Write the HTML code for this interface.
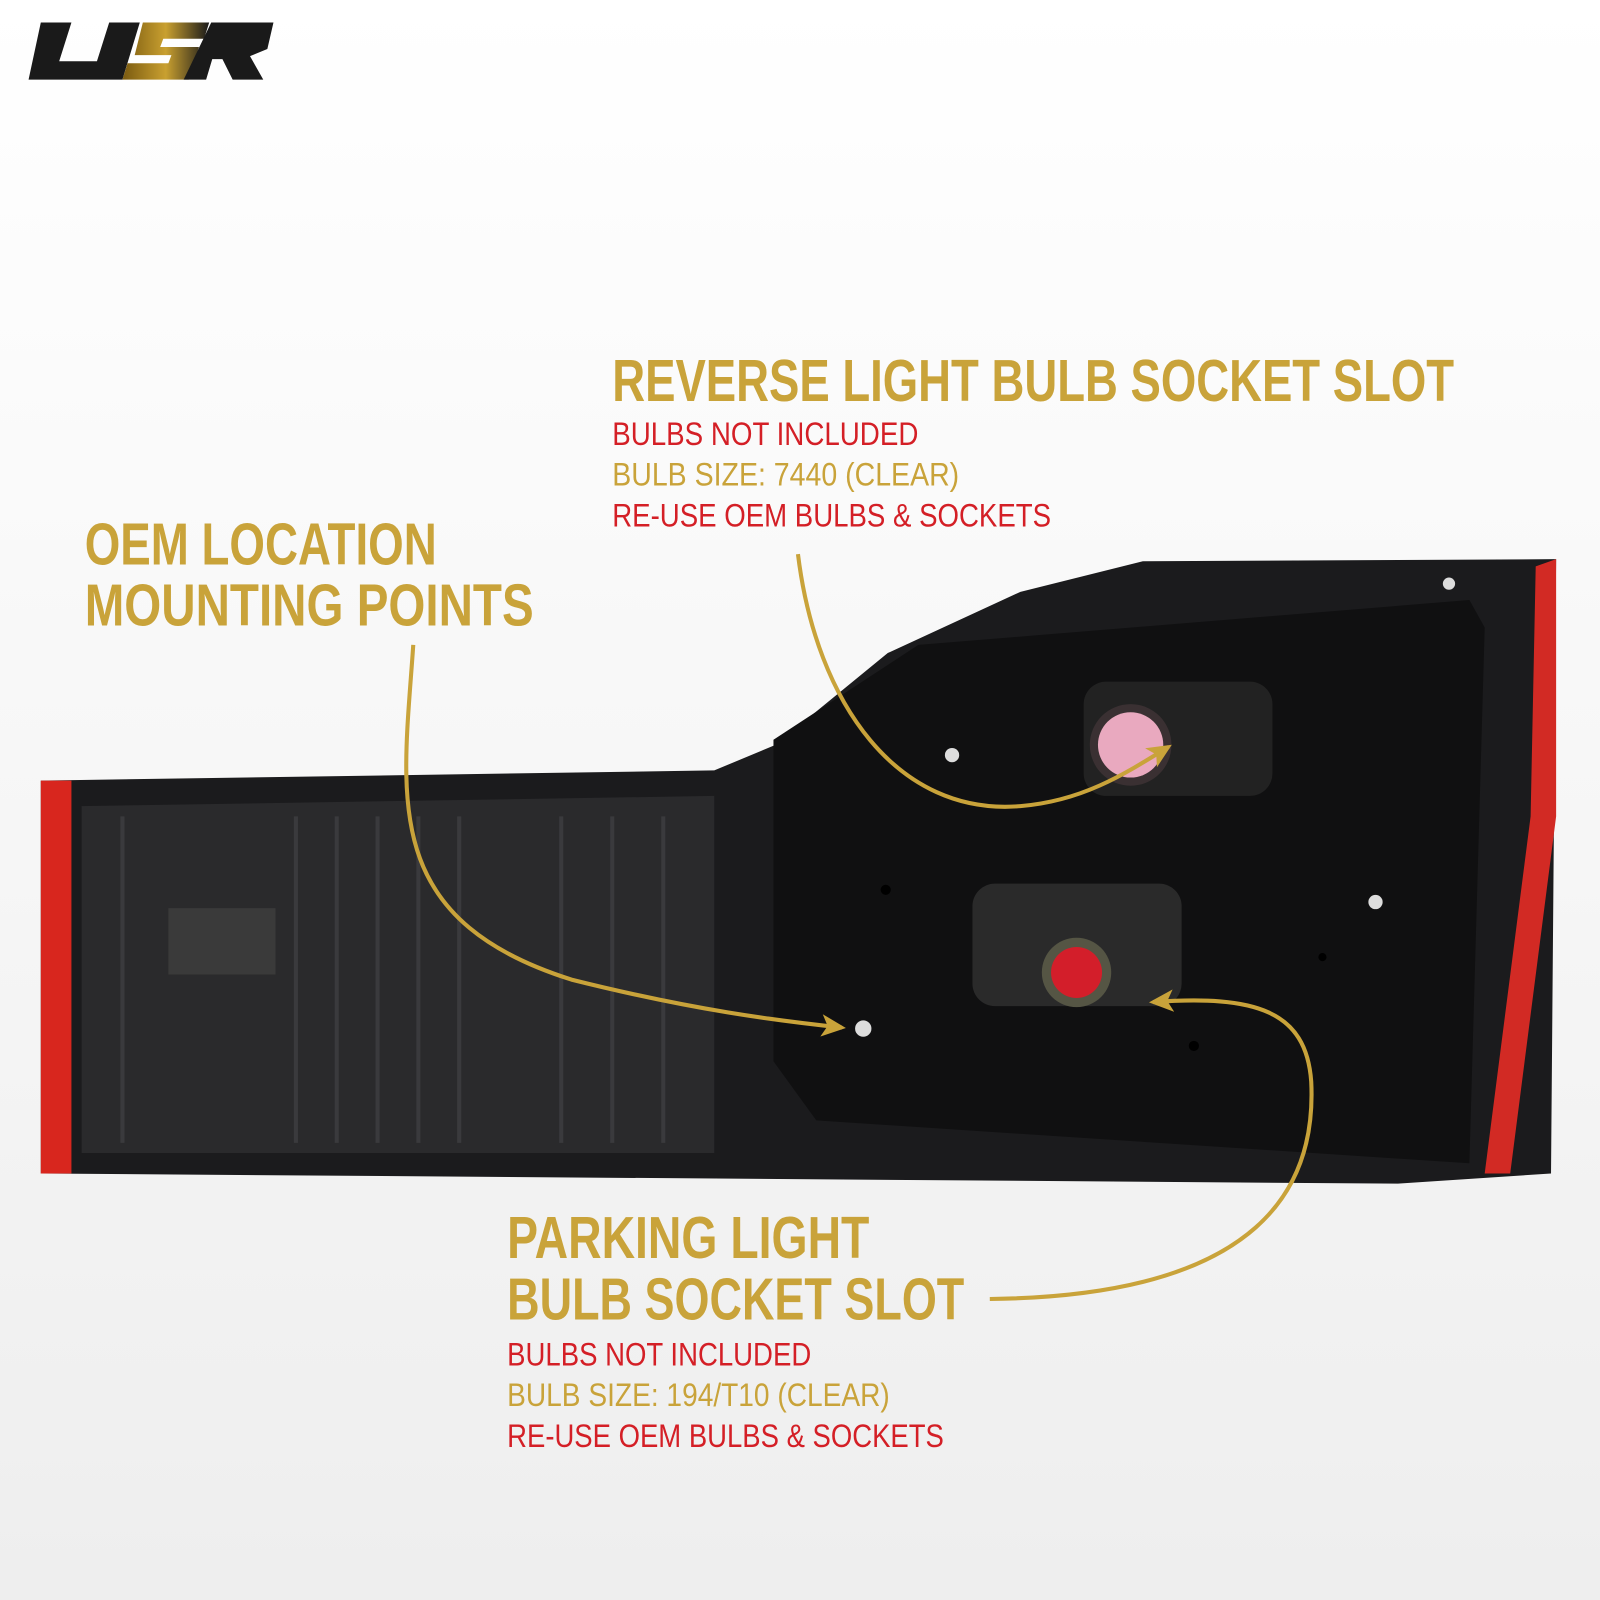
<!DOCTYPE html>
<html><head><meta charset="utf-8"><style>
html,body{margin:0;padding:0;background:#fff}
svg{display:block}
.t{font-family:"Liberation Sans Narrow","Liberation Sans",sans-serif;font-weight:bold}
.s{font-family:"Liberation Sans Narrow","Liberation Sans",sans-serif}
</style></head><body>
<svg width="1600" height="1600" viewBox="0 0 1568 1568" xmlns="http://www.w3.org/2000/svg">
<defs>
<linearGradient id="bg" x1="0" y1="0" x2="0" y2="1"><stop offset="0" stop-color="#ffffff"/><stop offset="1" stop-color="#eeeeee"/></linearGradient>
<linearGradient id="lg" x1="0" y1="0" x2="1" y2="0"><stop offset="0" stop-color="#7a5a10"/><stop offset="0.5" stop-color="#c9a030"/><stop offset="1" stop-color="#1a1a1a"/></linearGradient>
<marker id="ar" markerWidth="26" markerHeight="22" refX="20" refY="11" orient="auto" markerUnits="userSpaceOnUse"><path d="M0,0 L24,11 L0,22 L6,11 Z" fill="#c9a33a"/></marker>
</defs>
<rect width="1568" height="1568" fill="url(#bg)"/>
<g>
<polygon points="40,22 70,22 58,60 95,60 107,22 137,22 120,78 28,78" fill="#1a1a1a"/>
<polygon points="140,22 205,22 200,38 160,38 157,46 195,46 185,78 120,78 125,62 165,62 168,54 132,54" fill="url(#lg)"/>
<polygon points="207,22 268,22 262,48 245,55 258,78 228,78 218,58 208,58 202,78 180,78" fill="#1a1a1a"/>
</g>
<polygon points="40,765 700,755 760,730 870,640 1000,580 1120,550 1525,548 1520,1150 1370,1160 40,1150" fill="#1b1b1d"/>
<polygon points="40,765 70,765 70,1150 40,1150" fill="#d8261e"/>
<polygon points="1505,555 1525,548 1525,800 1480,1150 1455,1150 1500,800" fill="#d22a24"/>
<polygon points="80,790 700,780 700,1130 80,1130" fill="#2a2a2c"/>
<g stroke="#3a3a3d" stroke-width="4">
<line x1="120" y1="800" x2="120" y2="1120"/><line x1="290" y1="800" x2="290" y2="1120"/><line x1="330" y1="800" x2="330" y2="1120"/><line x1="370" y1="800" x2="370" y2="1120"/><line x1="410" y1="800" x2="410" y2="1120"/><line x1="450" y1="800" x2="450" y2="1120"/><line x1="550" y1="800" x2="550" y2="1120"/><line x1="600" y1="800" x2="600" y2="1120"/><line x1="650" y1="800" x2="650" y2="1120"/>
</g>
<rect x="165" y="890" width="105" height="65" fill="#3a3a3a"/>
<polygon points="758,725 900,632 1440,588 1455,615 1440,1140 800,1098 758,1040" fill="#101011"/>
<rect x="1062" y="668" width="185" height="112" rx="22" fill="#222"/>
<circle cx="1108" cy="730" r="40" fill="#3a3032"/><circle cx="1108" cy="730" r="32" fill="#e9a9bf"/>
<rect x="953" y="866" width="205" height="120" rx="22" fill="#2a2a2a"/>
<circle cx="1055" cy="953" r="34" fill="#554"/><circle cx="1055" cy="953" r="25" fill="#d31e2a"/>
<g fill="#ddd"><circle cx="933" cy="740" r="7"/><circle cx="1348" cy="884" r="7"/><circle cx="846" cy="1008" r="8"/><circle cx="1420" cy="572" r="6"/></g>
<g fill="#000"><circle cx="868" cy="872" r="5"/><circle cx="1170" cy="1025" r="5"/><circle cx="1296" cy="938" r="4"/></g>
<g fill="none" stroke="#c9a33a" stroke-width="4">
<path d="M405,632 C395,780 370,900 560,960 C680,990 760,1000 825,1007" marker-end="url(#ar)"/>
<path d="M782,543 C800,690 880,800 1000,790 C1060,785 1100,760 1145,732" marker-end="url(#ar)"/>
<path d="M970,1273 C1240,1270 1290,1160 1285,1060 C1280,990 1230,975 1130,982" marker-end="url(#ar)"/>
</g>
<g class="t" fill="#c9a33a" font-size="58">
<text x="600" y="393" textLength="825" lengthAdjust="spacingAndGlyphs">REVERSE LIGHT BULB SOCKET SLOT</text>
<text x="83" y="553" textLength="345" lengthAdjust="spacingAndGlyphs">OEM LOCATION</text>
<text x="83" y="613" textLength="440" lengthAdjust="spacingAndGlyphs">MOUNTING POINTS</text>
<text x="497" y="1233" textLength="355" lengthAdjust="spacingAndGlyphs">PARKING LIGHT</text>
<text x="497" y="1293" textLength="448" lengthAdjust="spacingAndGlyphs">BULB SOCKET SLOT</text>
</g>
<g class="s" font-size="32">
<text x="600" y="436" fill="#d41f26" textLength="300" lengthAdjust="spacingAndGlyphs">BULBS NOT INCLUDED</text>
<text x="600" y="476" fill="#c9a33a" textLength="340" lengthAdjust="spacingAndGlyphs">BULB SIZE: 7440 (CLEAR)</text>
<text x="600" y="516" fill="#d41f26" textLength="430" lengthAdjust="spacingAndGlyphs">RE-USE OEM BULBS &amp; SOCKETS</text>
<text x="497" y="1338" fill="#d41f26" textLength="298" lengthAdjust="spacingAndGlyphs">BULBS NOT INCLUDED</text>
<text x="497" y="1378" fill="#c9a33a" textLength="375" lengthAdjust="spacingAndGlyphs">BULB SIZE: 194/T10 (CLEAR)</text>
<text x="497" y="1418" fill="#d41f26" textLength="428" lengthAdjust="spacingAndGlyphs">RE-USE OEM BULBS &amp; SOCKETS</text>
</g>
</svg>
</body></html>
